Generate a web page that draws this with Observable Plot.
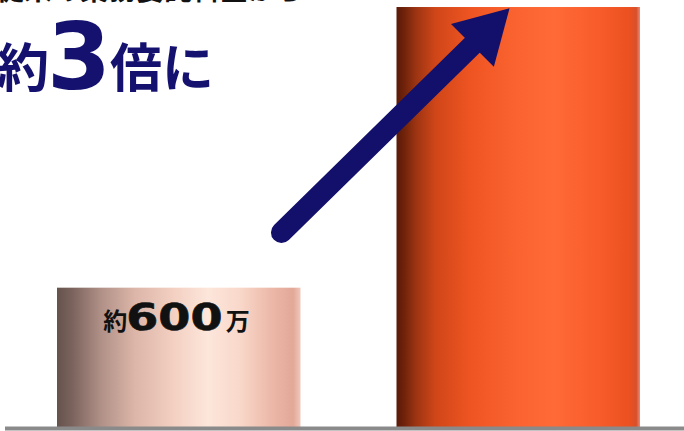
<!DOCTYPE html>
<html>
<head>
<meta charset="utf-8">
<script src="https://cdn.jsdelivr.net/npm/d3@7"></script>
<script src="https://cdn.jsdelivr.net/npm/@observablehq/plot@0.6"></script>
<style>
  html, body { margin: 0; padding: 0; background: #fff; }
  #chart { width: 684px; height: 431px; overflow: hidden; }
</style>
</head>
<body>
<div id="chart"></div>
<script>
// ---- data ----
const categories = ["現在", "導入後"];
const slots = [0, 1];
const values = [600, 1800];
const barLabels = ["約600万", ""];
const yMax = 1830;
const labelValue = 419;
const arrowTail = [{x: 0.801, y: 838}];
const arrowHead = [{x: 1.400, y: 1691}];
const leadText = "従来の業務委託料金から";
const headline = ["約", "3", "倍に"];
const labelParts = ["約", "600", "万"];

const navy = "#12106b";
const bars = categories.map((c, i) => ({cat: c, slot: slots[i], value: values[i], label: barLabels[i]}));
const arrow = [{x1: arrowTail[0].x, y1: arrowTail[0].y, x2: arrowHead[0].x, y2: arrowHead[0].y}];

const plot = Plot.plot({
  width: 684,
  height: 431,
  marginTop: 0,
  marginBottom: 3,
  marginLeft: 0,
  marginRight: 0,
  x: {type: "linear", domain: [-9 / 339.5, 675 / 339.5], axis: null},
  y: {domain: [0, yMax], axis: null},
  marks: [
    ...bars.map((d, i) => Plot.rectY([d], {
      x1: "slot", x2: (r) => r.slot + 1, y: "value",
      insetLeft: 48, insetRight: 48,
      fill: `url(#barGrad${i})`
    })),
    Plot.ruleY([0], {stroke: "#8a8a8a", strokeWidth: 4, insetLeft: 5}),
    Plot.link(arrow, {x1: "x1", y1: "y1", x2: "x2", y2: "y2", stroke: navy, strokeWidth: 21, strokeLinecap: "round"}),
    Plot.dot(arrowHead, {x: "x", y: "y", symbol: "triangle", r: 22.5, fill: navy, stroke: "none", rotate: 45})
  ]
});

document.getElementById("chart").appendChild(plot);

const svg = d3.select(plot);
const defs = svg.insert("defs", ":first-child");
const grads = [
  [[0, "#66524d"], [0.06, "#7a625c"], [0.18, "#b09087"], [0.32, "#dcb6a8"], [0.48, "#f3d0c2"], [0.62, "#fde6db"], [0.75, "#f9d8ca"], [0.88, "#ecb8a8"], [0.97, "#e2a898"], [1, "#f0c8bc"]],
  [[0, "#5a1a08"], [0.03, "#6e220a"], [0.08, "#9c3412"], [0.16, "#d04618"], [0.3, "#ee5422"], [0.5, "#fb6430"], [0.65, "#ff6a36"], [0.85, "#f65a28"], [0.96, "#ea5020"], [0.985, "#d8502a"], [1, "#e88a78"]]
];
grads.forEach((stops, i) => {
  const g = defs.append("linearGradient").attr("id", `barGrad${i}`).attr("x1", 0).attr("x2", 1).attr("y1", 0).attr("y2", 0);
  stops.forEach(([o, c]) => g.append("stop").attr("offset", o).attr("stop-color", c));
});

// bar label with mixed sizes, placed through the plot's scales
const sx = plot.scale("x"), sy = plot.scale("y");
bars.filter(d => d.label).forEach(d => {
  const cx = sx.apply(d.slot + 0.5), by = sy.apply(labelValue);
  const g = svg.append("g").attr("fill", "#111").attr("font-weight", "bold").attr("text-anchor", "start");
  g.append("text").attr("x", cx - 75.5).attr("y", by).attr("font-size", 24).attr("font-family", "Noto Sans CJK JP").text(labelParts[0]);
  g.append("text").attr("transform", `translate(${cx - 52.5},${by}) scale(1.23,1)`)
    .attr("font-size", 37.5).attr("font-family", "DejaVu Sans").attr("stroke", "#111").attr("stroke-width", 0.6).text(labelParts[1]);
  g.append("text").attr("x", cx + 47).attr("y", by).attr("font-size", 24).attr("font-family", "Noto Sans CJK JP").text(labelParts[2]);
});

// headline texts
svg.append("text").attr("x", -4).attr("y", 0).attr("text-anchor", "start")
  .attr("font-family", "Noto Sans CJK JP").attr("font-weight", "bold").attr("font-size", 28).attr("fill", "#111")
  .text(leadText);
const h = svg.append("text").attr("y", 87).attr("fill", "#14126e").attr("font-weight", "bold").attr("text-anchor", "start");
h.append("tspan").attr("x", -3).attr("font-family", "Noto Sans CJK JP").attr("font-size", 52).text(headline[0]);
h.append("tspan").attr("x", 47).attr("dy", 2).attr("font-family", "DejaVu Sans").attr("font-size", 92).text(headline[1]);
h.append("tspan").attr("x", 110).attr("dy", -2).attr("font-family", "Noto Sans CJK JP").attr("font-size", 52).text(headline[2]);
</script>
</body>
</html>
